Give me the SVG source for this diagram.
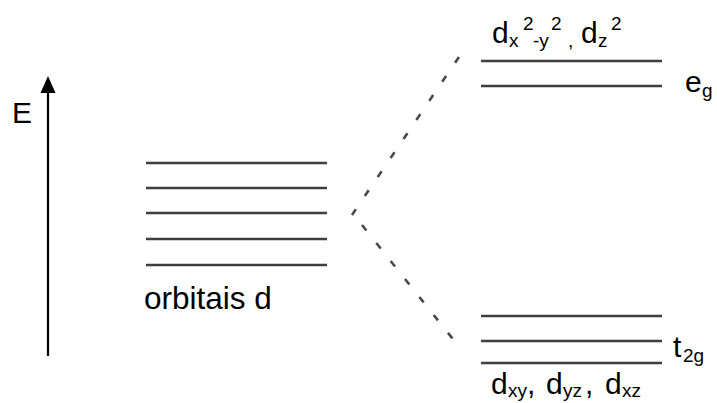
<svg xmlns="http://www.w3.org/2000/svg" width="717" height="403" viewBox="0 0 717 403">
  <style>
    .lvl { stroke: #3e3e3e; stroke-width: 2.6; fill: none; }
    .split { stroke: #4a4a4a; stroke-width: 2.6; stroke-dasharray: 7 16; fill: none; }
    .lbl { font-family: "Liberation Sans", Arial, sans-serif; font-size: 30px; fill: #000; }
    .big { font-size: 31.5px; }
    .sub { font-size: 19px; }
  </style>

  <!-- energy axis -->
  <g id="energy-axis">
    <line x1="48" y1="356" x2="48" y2="91" stroke="#000" stroke-width="2.2"/>
    <polygon points="48,76 40.5,93 55.5,93" fill="#000"/>
    <text class="lbl" x="12" y="123">E</text>
  </g>

  <!-- degenerate d orbitals -->
  <g id="d-orbitals">
    <line class="lvl" x1="146" y1="163" x2="327" y2="163"/>
    <line class="lvl" x1="146" y1="188" x2="327" y2="188"/>
    <line class="lvl" x1="146" y1="213" x2="327" y2="213"/>
    <line class="lvl" x1="146" y1="239" x2="327" y2="239"/>
    <line class="lvl" x1="146" y1="265" x2="327" y2="265"/>
    <text class="lbl big" x="144" y="309">orbitais d</text>
  </g>

  <!-- eg set -->
  <g id="eg-set">
    <line class="lvl" x1="481" y1="61" x2="662" y2="61"/>
    <line class="lvl" x1="481" y1="86" x2="662" y2="86"/>
    <text class="lbl" x="492" y="43">d<tspan class="sub" x="509" y="47">x</tspan><tspan class="sub" x="523" y="30">2</tspan><tspan class="sub" x="533" y="47">-y</tspan><tspan class="sub" x="551" y="30">2</tspan><tspan class="sub" x="568" y="47">,</tspan><tspan x="581" y="43">d</tspan><tspan class="sub" x="598" y="47">z</tspan><tspan class="sub" x="611" y="30">2</tspan></text>
    <text class="lbl" x="685" y="92">e<tspan class="sub" x="702" y="97">g</tspan></text>
  </g>

  <!-- t2g set -->
  <g id="t2g-set">
    <line class="lvl" x1="481" y1="316" x2="662" y2="316"/>
    <line class="lvl" x1="481" y1="341" x2="662" y2="341"/>
    <line class="lvl" x1="481" y1="363" x2="662" y2="363"/>
    <text class="lbl" x="673" y="357">t<tspan class="sub" x="683" y="362">2g</tspan></text>
    <text class="lbl" x="491" y="394">d<tspan class="sub" x="508" y="397">xy</tspan><tspan x="527" y="394">,</tspan><tspan x="546" y="394">d</tspan><tspan class="sub" x="563" y="397">yz</tspan><tspan x="585" y="394">,</tspan><tspan x="605" y="394">d</tspan><tspan class="sub" x="622" y="397">xz</tspan></text>
  </g>

  <!-- splitting connectors -->
  <g id="connectors">
    <line class="split" x1="459" y1="57" x2="352" y2="215"/>
    <line class="split" x1="362" y1="225" x2="460" y2="348"/>
  </g>
</svg>
